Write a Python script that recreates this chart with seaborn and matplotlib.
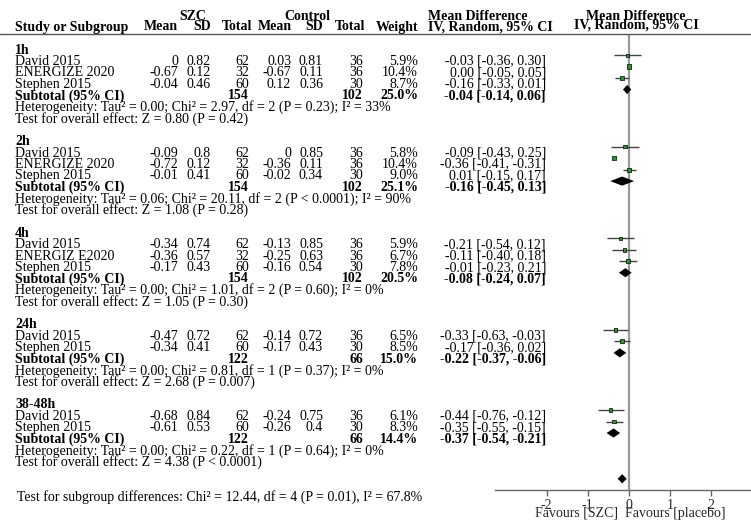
import matplotlib.pyplot as plt
import matplotlib.transforms as mtransforms
from matplotlib.lines import Line2D
import pandas as pd
import seaborn as sns

subgroups = ["1h", "2h", "4h", "24h", "38-48h"]

study_group = [0, 0, 0, 1, 1, 1, 2, 2, 2, 3, 3, 4, 4]
study_name = ["David 2015", "ENERGIZE 2020", "Stephen 2015",
              "David 2015", "ENERGIZE 2020", "Stephen 2015",
              "David 2015", "ENERGIZ E2020", "Stephen 2015",
              "David 2015", "Stephen 2015",
              "David 2015", "Stephen 2015"]
szc_mean = [0, -0.67, -0.04, -0.09, -0.72, -0.01, -0.34, -0.36, -0.17, -0.47, -0.34, -0.68, -0.61]
szc_sd = [0.82, 0.12, 0.46, 0.8, 0.12, 0.41, 0.74, 0.57, 0.43, 0.72, 0.41, 0.84, 0.53]
szc_n = [62, 32, 60, 62, 32, 60, 62, 32, 60, 62, 60, 62, 60]
ctl_mean = [0.03, -0.67, 0.12, 0, -0.36, -0.02, -0.13, -0.25, -0.16, -0.14, -0.17, -0.24, -0.26]
ctl_sd = [0.81, 0.11, 0.36, 0.85, 0.11, 0.34, 0.85, 0.63, 0.54, 0.72, 0.43, 0.75, 0.4]
ctl_n = [36, 36, 30, 36, 36, 30, 36, 36, 30, 36, 30, 36, 30]
weight = [5.9, 10.4, 8.7, 5.8, 10.4, 9.0, 5.9, 6.7, 7.8, 6.5, 8.5, 6.1, 8.3]
md = [-0.03, 0.00, -0.16, -0.09, -0.36, 0.01, -0.21, -0.11, -0.01, -0.33, -0.17, -0.44, -0.35]
md_lo = [-0.36, -0.05, -0.33, -0.43, -0.41, -0.15, -0.54, -0.40, -0.23, -0.63, -0.36, -0.76, -0.55]
md_hi = [0.30, 0.05, 0.01, 0.25, -0.31, 0.17, 0.12, 0.18, 0.21, -0.03, 0.02, -0.12, -0.15]

sub_szc_n = [154, 154, 154, 122, 122]
sub_ctl_n = [102, 102, 102, 66, 66]
sub_weight = [25.0, 25.1, 20.5, 15.0, 14.4]
sub_md = [-0.04, -0.16, -0.08, -0.22, -0.37]
sub_lo = [-0.14, -0.45, -0.24, -0.37, -0.54]
sub_hi = [0.06, 0.13, 0.07, -0.06, -0.21]
heterogeneity = [
    "Heterogeneity: Tau² = 0.00; Chi² = 2.97, df = 2 (P = 0.23); I² = 33%",
    "Heterogeneity: Tau² = 0.06; Chi² = 20.11, df = 2 (P < 0.0001); I² = 90%",
    "Heterogeneity: Tau² = 0.00; Chi² = 1.01, df = 2 (P = 0.60); I² = 0%",
    "Heterogeneity: Tau² = 0.00; Chi² = 0.81, df = 1 (P = 0.37); I² = 0%",
    "Heterogeneity: Tau² = 0.00; Chi² = 0.22, df = 1 (P = 0.64); I² = 0%",
]
overall_effect = [
    "Test for overall effect: Z = 0.80 (P = 0.42)",
    "Test for overall effect: Z = 1.08 (P = 0.28)",
    "Test for overall effect: Z = 1.05 (P = 0.30)",
    "Test for overall effect: Z = 2.68 (P = 0.007)",
    "Test for overall effect: Z = 4.38 (P < 0.0001)",
]
overall_md, overall_lo, overall_hi = -0.16, -0.27, -0.05
subgroup_test = "Test for subgroup differences: Chi² = 12.44, df = 4 (P = 0.01), I² = 67.8%"
xticks = [-2, -1, 0, 1, 2]

W, H = 751, 525
ROW0, PITCH = 50, 11.45   # pixel y of row 0 and row spacing
MARK_OFF = -0.55          # plotted marks sit a bit above their text rows

sns.set_theme(style="white")
plt.rcParams["font.family"] = ["Liberation Serif", "DejaVu Serif"]
plt.rcParams["axes.unicode_minus"] = False
FS = 10

fig = plt.figure(figsize=(W / 100, H / 100), dpi=100)
top_px, bot_px, left_px = 34, 490, 495
ax = fig.add_axes([left_px / W, 1 - bot_px / H, (W - left_px) / W, (bot_px - top_px) / H])
ax.set_xlim(-3.26, 2.98)
ax.set_ylim((bot_px - ROW0) / PITCH, (top_px - ROW0) / PITCH)

trans = mtransforms.blended_transform_factory(fig.transFigure, ax.transData)


def put(x_px, row, s, ha="left", bold=False):
    fig.text(x_px / W, row, s, transform=trans, ha=ha, va="center",
             fontsize=FS, fontweight="bold" if bold else "normal", color="black")


def row_of(y_px):
    return (y_px - ROW0) / PITCH


# header
put(193, row_of(16), "SZC", ha="center", bold=True)
put(307, row_of(16), "Control", ha="center", bold=True)
put(15, row_of(27), "Study or Subgroup", bold=True)
for xr, s in [(178, "Mean"), (211, "SD"), (252, "Total"), (292, "Mean"), (323, "SD"), (365, "Total"), (418, "Weight")]:
    put(xr, row_of(27), s, ha="right", bold=True)
put(428, row_of(16), "Mean Difference", bold=True)
put(428, row_of(27), "IV, Random, 95% CI", bold=True)
put(636, row_of(16), "Mean Difference", ha="center", bold=True)
put(636, row_of(25), "IV, Random, 95% CI", ha="center", bold=True)
fig.add_artist(Line2D([0, 1], [1 - top_px / H] * 2, transform=fig.transFigure, color="#555555", lw=1))

cols = [178, 211, 249, 291, 323, 363, 418, 546]

rows, sub_rows = [], []
r = 0
for g, name in enumerate(subgroups):
    put(15, r, name, bold=True)
    idx = [i for i, sg in enumerate(study_group) if sg == g]
    for k, i in enumerate(idx):
        rr = r + 1 + k
        rows.append(rr)
        put(15, rr, study_name[i])
        vals = [f"{szc_mean[i]:g}", f"{szc_sd[i]:g}", f"{szc_n[i]}",
                f"{ctl_mean[i]:g}", f"{ctl_sd[i]:g}", f"{ctl_n[i]}",
                f"{weight[i]:.1f}%", f"{md[i]:.2f} [{md_lo[i]:.2f}, {md_hi[i]:.2f}]"]
        for xr, s in zip(cols, vals):
            put(xr, rr, s, ha="right")
    rs = r + len(idx) + 1
    sub_rows.append(rs)
    put(15, rs, "Subtotal (95% CI)", bold=True)
    put(cols[2], rs, f"{sub_szc_n[g]}", ha="right", bold=True)
    put(cols[5], rs, f"{sub_ctl_n[g]}", ha="right", bold=True)
    put(cols[6], rs, f"{sub_weight[g]:.1f}%", ha="right", bold=True)
    put(cols[7], rs, f"{sub_md[g]:.2f} [{sub_lo[g]:.2f}, {sub_hi[g]:.2f}]", ha="right", bold=True)
    put(15, rs + 1, heterogeneity[g])
    put(15, rs + 2, overall_effect[g])
    r = rs + 4
overall_row = r
put(17, overall_row + 1, subgroup_test)

# forest marks
ax.axvline(0, color="#999999", lw=1.6, zorder=1)
df = pd.DataFrame({"md": md, "lo": md_lo, "hi": md_hi, "w": weight,
                   "y": [v + MARK_OFF for v in rows]})
ax.hlines(df["y"], df["lo"], df["hi"], color="#444444", lw=1, zorder=2)
sns.scatterplot(data=df, x="md", y="y", size="w", sizes=(5, 10), size_norm=(5.8, 10.4),
                marker="s", color="#1ea01e", edgecolor="black", linewidth=0.5,
                legend=False, ax=ax, zorder=3)

dh = 0.4
for yv, c, lo, hi in zip([v + MARK_OFF for v in sub_rows] + [overall_row + MARK_OFF],
                         sub_md + [overall_md], sub_lo + [overall_lo], sub_hi + [overall_hi]):
    ax.fill([lo, c, hi, c], [yv, yv - dh, yv, yv + dh], color="black", zorder=4, lw=0)

# axis
for sp in ["top", "left", "right"]:
    ax.spines[sp].set_visible(False)
ax.spines["bottom"].set_color("#666666")
ax.spines["bottom"].set_linewidth(1)
ax.set_yticks([])
ax.set_xticks(xticks)
ax.set_xticklabels([str(t) for t in xticks])
ax.tick_params(axis="x", direction="out", length=4.5, width=1, color="#666666",
               pad=2, labelsize=FS, bottom=True)
ax.set_xlabel("")
ax.set_ylabel("")
fig.text(618 / W, 1 - 513 / H, "Favours [SZC]", ha="right", va="center", fontsize=FS)
fig.text(625 / W, 1 - 513 / H, "Favours [placebo]", ha="left", va="center", fontsize=FS)

fig.savefig("out.png", dpi=100)
